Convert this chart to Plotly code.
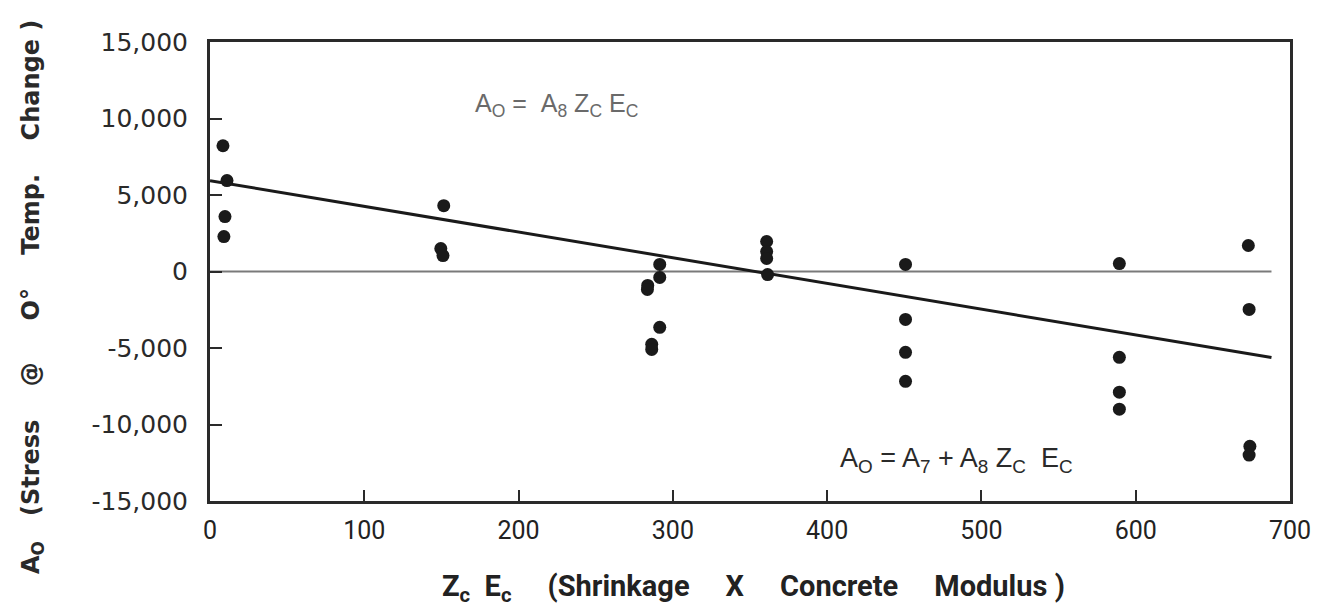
import plotly.graph_objects as go

# Observed points (x = Zc*Ec, y = A0)
pts_x = [8.4, 11, 9.7, 9,
         151.5, 149.6, 151,
         291.5, 291.5, 283.7, 283.5, 291.5, 286.3, 286.3,
         360.8, 360.8, 360.8, 361.4,
         450.8, 450.8, 450.8, 450.8,
         589.4, 589.4, 589.4, 589.4,
         673, 673.5, 674, 673.5]
pts_y = [8220, 5940, 3590, 2280,
         4300, 1500, 1040,
         460, -390, -910, -1170, -3650, -4760, -5090,
         1960, 1300, 850, -200,
         460, -3130, -5280, -7180,
         520, -5610, -7890, -9000,
         1700, -2480, -11420, -12000]

# Fitted line A0 = A7 + A8 Zc Ec
fit_x = [0, 688]
fit_y = [5940, -5620]

# Zero reference line
zero_x = [0, 688]
zero_y = [0, 0]

x_ticks = [0, 100, 200, 300, 400, 500, 600, 700]
y_ticks = [-15000, -10000, -5000, 0, 5000, 10000, 15000]
y_tick_text = ["-15,000", "-10,000", "-5,000", "0", "5,000", "10,000", "15,000"]

fig = go.Figure()
fig.add_trace(go.Scatter(x=zero_x, y=zero_y, mode="lines",
                         line=dict(color="#7a7a7a", width=2), showlegend=False))
fig.add_trace(go.Scatter(x=fit_x, y=fit_y, mode="lines",
                         line=dict(color="#1a1a1a", width=3), showlegend=False))
fig.add_trace(go.Scatter(x=pts_x, y=pts_y, mode="markers",
                         marker=dict(color="#1a1a1a", size=13), showlegend=False))

fig.update_layout(
    width=1335, height=607,
    margin=dict(l=210, r=45, t=42, b=106),
    paper_bgcolor="white", plot_bgcolor="white",
    font=dict(family="DejaVu Sans", color="#2a2a2a"),
    xaxis=dict(range=[0, 700], tickvals=x_ticks, ticktext=[str(v) for v in x_ticks],
               ticks="inside", ticklen=11, tickwidth=2, tickcolor="#2a2a2a",
               showline=True, linecolor="#2a2a2a", linewidth=3, mirror=True,
               showgrid=False, zeroline=False,
               tickfont=dict(family="Roboto", size=25, color="#222222"),
               ticklabelstandoff=5),
    yaxis=dict(range=[-15000, 15000], tickvals=y_ticks, ticktext=y_tick_text,
               ticks="inside", ticklen=12, tickwidth=2, tickcolor="#2a2a2a",
               showline=True, linecolor="#2a2a2a", linewidth=3, mirror=True,
               showgrid=False, zeroline=False,
               tickfont=dict(family="DejaVu Sans", size=25, color="#2a2a2a"),
               ticklabelstandoff=14),
)

nb = "\u00a0"
sp3 = nb * 3
sp4 = nb * 4
sp5 = nb * 5
fig.add_annotation(
    text=f"A<sub>O</sub>{sp3}(Stress{sp4}@{sp4}{nb}O°{sp4}Temp.{sp4}Change{nb})",
    xref="paper", yref="paper", x=(32 - 210) / 1080, y=(501 - 297) / 459,
    textangle=-90, showarrow=False, xanchor="center", yanchor="middle",
    font=dict(family="DejaVu Sans", size=24, color="#2a2a2a", weight="bold"))
fig.add_annotation(
    text=f"Z<sub>c</sub>{nb}{nb}E<sub>c</sub>{sp5}(Shrinkage{sp5}X{sp5}Concrete{sp5}Modulus{nb})",
    xref="paper", yref="paper", x=(753 - 210) / 1080, y=(501 - 588) / 459,
    showarrow=False, xanchor="center", yanchor="middle",
    font=dict(family="Roboto", size=29, color="#222222", weight="bold"))
fig.add_annotation(
    text=f"A<sub>O</sub> ={nb}{nb}A<sub>8</sub> Z<sub>C</sub> E<sub>C</sub>",
    xref="paper", yref="paper", x=(473 - 210) / 1080, y=(501 - 105) / 459,
    showarrow=False, xanchor="left", yanchor="middle",
    font=dict(family="Liberation Sans", size=25, color="#6a6a6a"))
fig.add_annotation(
    text=f"A<sub>O</sub> = A<sub>7</sub> + A<sub>8</sub> Z<sub>C</sub>{nb} E<sub>C</sub>",
    xref="paper", yref="paper", x=(838 - 210) / 1080, y=(501 - 460) / 459,
    showarrow=False, xanchor="left", yanchor="middle",
    font=dict(family="Liberation Sans", size=27, color="#2a2a2a"))

fig.write_html("out.html")
